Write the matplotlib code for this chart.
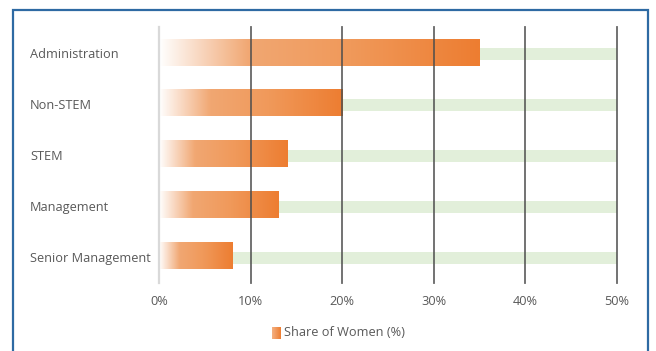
import matplotlib
matplotlib.use("Agg")
import matplotlib.pyplot as plt
import numpy as np
from matplotlib.colors import LinearSegmentedColormap
from matplotlib.patches import Rectangle
import matplotlib.transforms as mtransforms

categories = ["Administration", "Non-STEM", "STEM", "Management", "Senior Management"]
share_women = [35, 20, 14, 13, 8]
target = [50, 50, 50, 50, 50]
xticks = [0, 10, 20, 30, 40, 50]
xtick_labels = ["0%", "10%", "20%", "30%", "40%", "50%"]
legend_label = "Share of Women (%)"

plt.rcParams['font.family'] = ['Open Sans', 'DejaVu Sans']
text_color = "#595959"
fs = 9.2

fig = plt.figure(figsize=(6.56, 3.51), dpi=100)
ax = fig.add_axes([159/656, 1 - 283/351, (617 - 159)/656, 256/351])

cmap = LinearSegmentedColormap.from_list(
    "og", [(0.0, "#FFFFFF"), (0.12, "#F9D9C3"), (0.28, "#F1A772"),
           (0.6, "#F0995A"), (1.0, "#ED7D31")])
grad = np.linspace(0, 1, 256).reshape(1, -1)

y = np.arange(len(categories))
ax.barh(y, target, height=0.22, color="#E2EFDA", zorder=1)
for yi, v in zip(y, share_women):
    h = 0.51
    ax.imshow(grad, extent=[0, v, yi + h/2 - 0.03, yi - h/2 - 0.03], aspect='auto',
              cmap=cmap, zorder=2, interpolation='bilinear')

for xt in xticks[1:]:
    ax.axvline(xt, color="#4D4D4D", linewidth=1.3, alpha=0.85, zorder=3, clip_on=False)
ax.axvline(0, color="#D9D9D9", linewidth=1.6, zorder=3, clip_on=False)

ax.set_xlim(0, 50)
ax.set_ylim(4.49, -0.53)
ax.set_xticks(xticks)
ax.set_xticklabels(xtick_labels, color=text_color, fontsize=fs)
ax.tick_params(axis='x', length=0, pad=8.5)
ax.set_yticks([])
for s in ax.spines.values():
    s.set_visible(False)

trans = mtransforms.blended_transform_factory(fig.transFigure, ax.transData)
for yi, c in zip(y, categories):
    ax.text(30/656, yi, c, transform=trans, ha='left', va='center',
            color=text_color, fontsize=fs)

# legend
lax = fig.add_axes([272/656, 1 - 339/351, 9/656, 12/351])
lax.imshow(grad, aspect='auto', cmap=LinearSegmentedColormap.from_list(
    "lg", ["#F4B183", "#ED7D31"]))
lax.axis('off')
fig.text(284/656, 1 - 333/351, legend_label, ha='left', va='center',
         color=text_color, fontsize=fs)

# border
fig.patches.append(Rectangle((13/656, -0.2), (648 - 13)/656, 1.2 - 10/351,
                             transform=fig.transFigure, fill=False,
                             edgecolor="#2E6AA3", linewidth=1.6, clip_on=False))

fig.savefig("out.png", dpi=100)
